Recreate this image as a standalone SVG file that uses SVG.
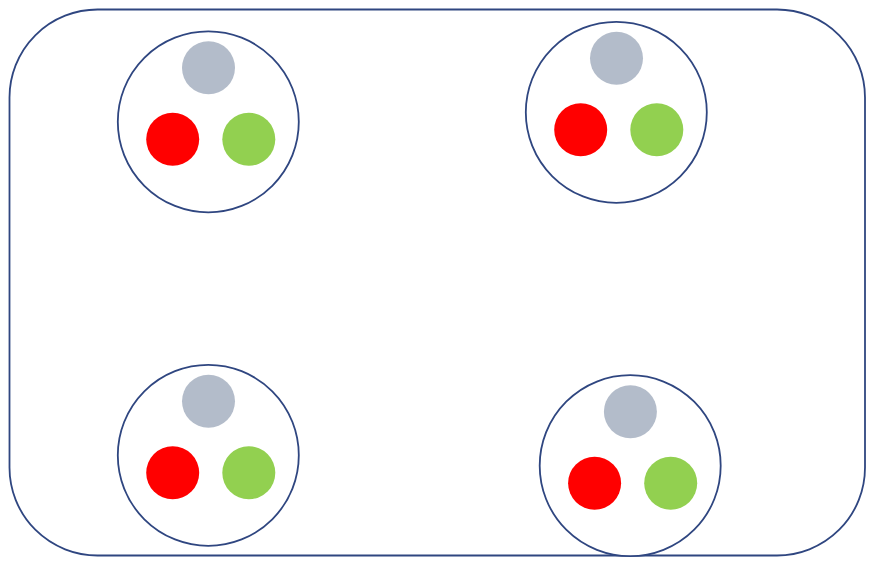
<svg xmlns="http://www.w3.org/2000/svg" width="876" height="568" viewBox="0 0 876 568">
<style>
.frame{fill:none;stroke:#2F4680;stroke-width:1.8}
.ring{fill:#fff;stroke:#2F4680;stroke-width:1.8}
.gray{fill:#B3BCCA}
.red{fill:#FF0000}
.green{fill:#92D050}
</style>
<rect class="frame" x="9.5" y="9.5" width="855.5" height="546" rx="88" ry="88"/>
<g id="node-tl" transform="translate(208.3,121.8)">
<circle class="ring" r="90.5"/>
<circle class="gray" cx="0.2" cy="-54" r="26.5"/>
<circle class="red" cx="-35.6" cy="17.5" r="26.5"/>
<circle class="green" cx="40.5" cy="17.5" r="26.5"/>
</g>
<g id="node-tr" transform="translate(616.3,112.3)">
<circle class="ring" r="90.5"/>
<circle class="gray" cx="0.2" cy="-54" r="26.5"/>
<circle class="red" cx="-35.6" cy="17.5" r="26.5"/>
<circle class="green" cx="40.5" cy="17.5" r="26.5"/>
</g>
<g id="node-bl" transform="translate(208.3,455.3)">
<circle class="ring" r="90.5"/>
<circle class="gray" cx="0.2" cy="-54" r="26.5"/>
<circle class="red" cx="-35.6" cy="17.5" r="26.5"/>
<circle class="green" cx="40.5" cy="17.5" r="26.5"/>
</g>
<g id="node-br" transform="translate(630.2,465.7)">
<circle class="ring" r="90.5"/>
<circle class="gray" cx="0.2" cy="-54" r="26.5"/>
<circle class="red" cx="-35.6" cy="17.5" r="26.5"/>
<circle class="green" cx="40.5" cy="17.5" r="26.5"/>
</g>
<g id="connectors"></g>
</svg>
